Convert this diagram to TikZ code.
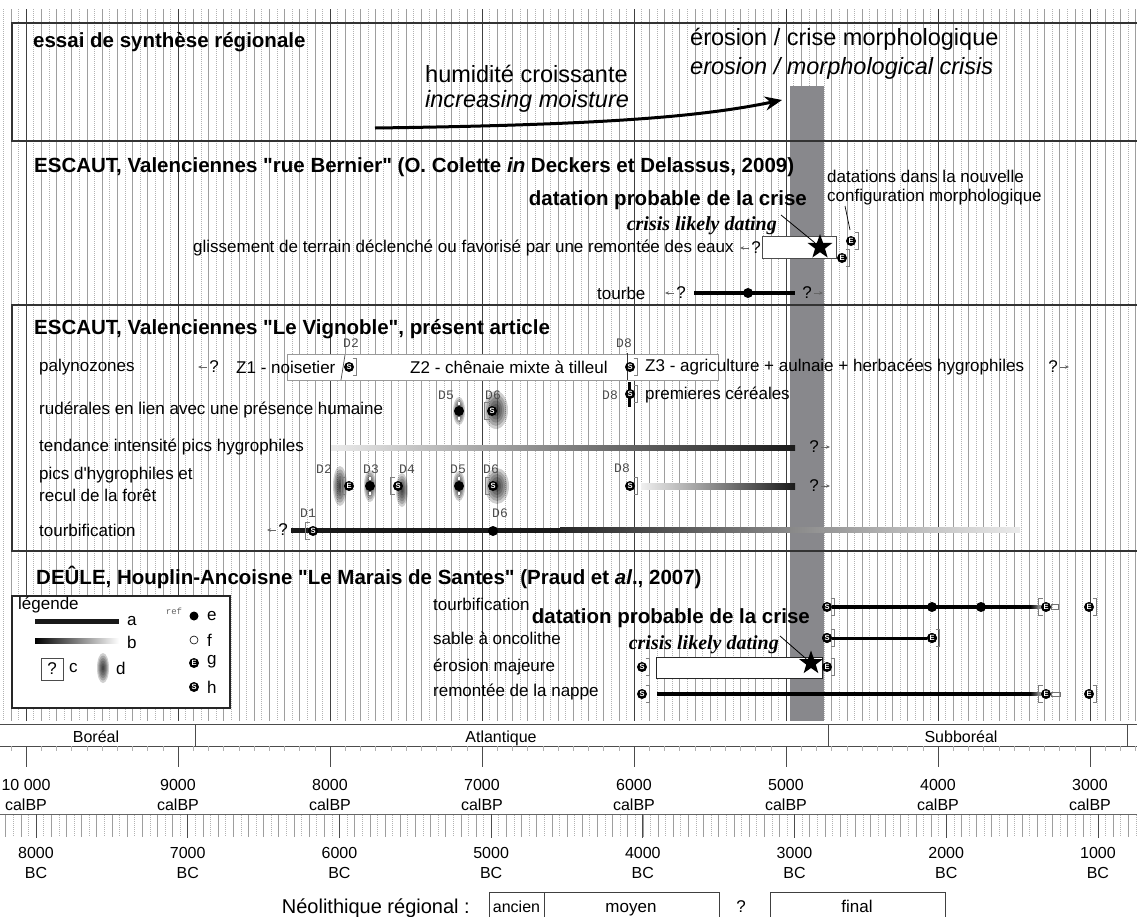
\documentclass[tikz,border=0pt]{standalone}
\usepackage{fontspec}
\setmainfont{Liberation Sans}[Ligatures=TeXOff]
\newfontfamily\tnr{Liberation Serif}
\newfontfamily\mono{Liberation Mono}
\usetikzlibrary{shapes.geometric,arrows.meta}
\newcommand{\fsz}[1]{\fontsize{#1}{#1}\selectfont}
\definecolor{crisis}{RGB}{136,136,140}
\tikzset{
  lbl/.style={anchor=west, inner sep=0pt, font=\fsz{17}},
  head/.style={anchor=west, inner sep=0pt, font=\fsz{20.5}\bfseries},
  big/.style={anchor=west, inner sep=0pt, font=\fsz{23.5}},
  dlab/.style={inner sep=0pt, font=\mono\fsz{13}, text=black!70},
  axl/.style={inner sep=0pt, font=\fsz{16}, anchor=base},
  mk/.style={circle, fill=black, inner sep=0pt, minimum size=10pt, text=white, font=\fsz{7.5}\bfseries},
  dot/.style={circle, fill=black, inner sep=0pt, minimum size=10pt},
  brk/.style={draw=black!50, line width=0.6pt},
  qa/.style={draw=black!60, line width=0.6pt, -{Stealth[length=4pt,width=3.5pt]}},
  qm/.style={inner sep=0pt, font=\fsz{17}},
  star5/.style={star, star points=5, star point ratio=2.5, fill=black, inner sep=0pt, minimum size=26pt},
  wbox/.style={draw=black!70, fill=white, line width=0.6pt},
  secbox/.style={draw=black!80, line width=1.1pt},
  ptr/.style={draw=black, line width=0.8pt},
  gmin/.style={draw=black!38, line width=0.5pt},
  gdot/.style={draw=black!30, line width=0.5pt, dash pattern=on 1pt off 1pt},
  gmaj/.style={draw=black!75, line width=0.9pt},
  nbox/.style={draw=black!75, line width=0.9pt},
  nlab/.style={inner sep=0pt, font=\fsz{17}, anchor=base},
}
\newcommand{\brR}[1]{\draw[brk] ([shift={(3.5,-8.5)}]#1.center) -- ++(4,0) -- ++(0,17) -- ++(-4,0);}
\newcommand{\brL}[1]{\draw[brk] ([shift={(-3.5,-8.5)}]#1.center) -- ++(-4,0) -- ++(0,17) -- ++(4,0);}
\newcommand{\blurell}[4]{\foreach \k in {1,...,6}{\fill[black, fill opacity=0.19] (#1,#2) ellipse [x radius={#3*\k/6}, y radius={#4*\k/6}];}}
\newcommand{\wtick}[2]{\draw[white, line width=1.2pt] (#1,#2-9) -- (#1,#2-6) (#1,#2+6) -- (#1,#2+9);}
\begin{document}
\begin{tikzpicture}[x=1pt,y=-1pt]
\useasboundingbox (0,0) rectangle (1137,916);
\fill[white] (0,0) rectangle (1137,916);

% ---------- grid ----------
\foreach \b in {10150,10100,...,2700}{
  \pgfmathsetmacro\xx{26+(10000-\b)*0.152}
  \pgfmathtruncatemacro\rr{mod(\b,100)}
  \ifnum\rr=0 \draw[gmin] (\xx,9) -- (\xx,721); \else \draw[gdot] (\xx,9) -- (\xx,721); \fi
}
\foreach \b in {10000,9000,...,3000}{
  \pgfmathsetmacro\xx{26+(10000-\b)*0.152}
  \draw[gmaj] (\xx,9) -- (\xx,721);
}
% crisis bar
\fill[crisis] (790,86) rectangle (824,721);

% section boxes
\draw[secbox] (12,23) rectangle (1145,141);
\draw[secbox] (12,305) rectangle (1145,551);

% ---------- box 1 ----------
\node[head] (t1) at (33,42) {essai de synthèse régionale};
\node[big] (t2) at (690,39) {érosion / crise morphologique};
\node[big] (t3) at (690,68) {\itshape erosion / morphological crisis};
\node[big] (t4) at (425,74) {humidité croissante};
\node[big] (t5) at (425,101) {\itshape increasing moisture};
\coordinate (hA) at (375,128);
\coordinate (hB) at (782,100);
\draw[line width=3pt, -{Stealth[length=17pt,width=14pt]}] (hA) .. controls (600,125) and (700,117) .. (hB);

% ---------- section 2 ----------
\node[head] (h2) at (34,167) {ESCAUT, Valenciennes "rue Bernier" (O. Colette \textit{in} Deckers et Delassus, 2009)};
\node[lbl] (c1) at (827,176) {datations dans la nouvelle};
\node[lbl] (c2) at (827,197) {configuration morphologique};
\node[anchor=east, inner sep=0pt, font=\fsz{20.5}\bfseries] (dp1) at (807,200) {datation probable de la crise};
\node[anchor=east, inner sep=0pt, font=\tnr\fsz{20}\bfseries\itshape] (cl1) at (777,226) {crisis likely dating};
\node[lbl] (gl) at (193,248) {glissement de terrain déclenché ou favorisé par une remontée des eaux};
\node[qm] (q1) at (756,248) {?};
\draw[qa] ([xshift=-2pt]q1.west) -- ++(-9,0);
\draw[wbox] (762,236) rectangle (836,258);
\node[star5] (st1) at (820,247) {};
\draw[ptr] (781,215) -- (st1);
\node[mk] (mA) at (851,241) {E}; \brR{mA}
\node[mk] (mB) at (842,258) {E}; \brR{mB}
\draw[ptr, line width=0.7pt] (845,206) -- (850,230);
\node[lbl] (tb) at (597,293) {tourbe};
\node[qm] (q2) at (681,293) {?};
\draw[qa] ([xshift=-2pt]q2.west) -- ++(-9,0);
\coordinate (tbA) at (694,293); \coordinate (tbB) at (795,293);
\draw[line width=4.5pt] (tbA) -- (tbB);
\node[dot] (d1) at (748,293) {};
\node[qm] (q3) at (807,293) {?};
\draw[qa] ([xshift=2pt]q3.east) -- ++(9,0);

% ---------- section 3 ----------
\node[head] (h3) at (34,329) {ESCAUT, Valenciennes "Le Vignoble", présent article};
% palynozones
\node[lbl] (p0) at (39,367) {palynozones};
\node[qm] (q4) at (214,367) {?};
\draw[qa] ([xshift=-2pt]q4.west) -- ++(-9,0);
\draw[draw=black!40, fill=white, line width=0.6pt] (287,354) rectangle (718,380);
\draw[black!70, line width=0.7pt] (345,355) -- (341,380);
\draw[black!80, line width=0.8pt] (627,353) -- (627,380);
\node[lbl] (z1) at (236,367) {Z1 - noisetier};
\node[lbl] (z2) at (410,367) {Z2 - chênaie mixte à tilleul};
\node[lbl] (z3) at (645,367) {Z3 - agriculture + aulnaie + herbacées hygrophiles};
\node[qm] (q5) at (1053,367) {?};
\draw[qa] ([xshift=2pt]q5.east) -- ++(9,0);
\node[dlab] (lD2a) at (351,343) {D2};
\node[dlab] (lD8a) at (624,343) {D8};
\node[mk] (m1) at (349,367) {S}; \brR{m1}
\node[mk] (m2) at (630,367) {S}; \brR{m2}
% rudérales
\node[lbl] (r0) at (39,410) {rudérales en lien avec une présence humaine};
\blurell{459}{411}{6}{14}
\blurell{496}{410}{12}{19}
\node[dlab] (lD5a) at (446,395) {D5};
\node[dlab] (lD6a) at (493,395) {D6};
\node[dot] (d2) at (459,411) {}; \wtick{459}{411}
\node[mk] (m4) at (492,411) {S}; \brL{m4}
\node[dlab] (lD8b) at (610,395) {D8};
\draw[line width=3pt] (629,382) -- (629,407);
\node[mk] (m3) at (630,394) {S}; \brR{m3}
\node[lbl] (pc) at (645,395) {premieres céréales};
% tendance
\node[lbl] (te) at (39,447) {tendance intensité pics hygrophiles};
\shade[left color=black!8, right color=black!90] (331,445.5) rectangle (795,450.5);
\node[qm] (q6) at (814,447) {?};
\draw[qa] ([xshift=2pt]q6.east) -- ++(9,0);
% pics
\node[lbl] (pi1) at (39,475) {pics d'hygrophiles et};
\node[lbl] (pi2) at (39,495) {recul de la forêt};
\blurell{340}{486}{7}{20}
\blurell{370}{486}{6}{16}
\blurell{402}{490}{6}{17}
\blurell{459}{486}{6}{15}
\blurell{497}{486}{12}{18}
\node[dlab] (lD2b) at (324,469) {D2};
\node[dlab] (lD3) at (371,469) {D3};
\node[dlab] (lD4) at (407,469) {D4};
\node[dlab] (lD5b) at (458,469) {D5};
\node[dlab] (lD6b) at (491,469) {D6};
\node[mk] (m5) at (349,486) {E}; \brL{m5}
\node[dot] (d3) at (370,486) {}; \wtick{370}{486}
\node[mk] (m6) at (398,486) {S}; \brL{m6}
\node[dot] (d4) at (459,486) {}; \wtick{459}{486}
\node[mk] (m7) at (493,486) {S}; \brL{m7}
\node[dlab] (lD8c) at (622,468) {D8};
\shade[left color=black!6, right color=black!90] (641,483) rectangle (795,489);
\node[mk] (m8) at (630,486) {S}; \brR{m8}
\node[qm] (q7) at (814,486) {?};
\draw[qa] ([xshift=2pt]q7.east) -- ++(9,0);
% tourbification
\node[lbl] (to) at (39,530) {tourbification};
\node[qm] (q8) at (283,530) {?};
\draw[qa] ([xshift=-2pt]q8.west) -- ++(-9,0);
\coordinate (toA) at (291,530); \coordinate (toB) at (560,530);
\draw[line width=5pt, black!90] (toA) -- (toB);
\shade[left color=black!85, right color=black!8] (560,527.5) rectangle (1020,532.5);
\node[dlab] (lD1) at (308,513) {D1};
\node[dlab] (lD6c) at (500,513) {D6};
\node[mk] (m9) at (313,531) {S}; \brL{m9}
\node[dot] (d5) at (493,531) {};

% ---------- section 4 ----------
\node[head] (h4) at (36,577) {DEÛLE, Houplin-Ancoisne "Le Marais de Santes" (Praud et \textit{al}., 2007)};
% legend
\draw[draw=black!85, line width=1.5pt, fill=white] (12,596) rectangle (230,708);
\node[lbl] (lg) at (18,605) {légende};
\coordinate (la1) at (35,621); \coordinate (la2) at (119,621);
\draw[line width=5pt, black!90] (la1) -- (la2);
\node[lbl] (la) at (127,621) {a};
\shade[left color=black, right color=white] (35,638.5) rectangle (119,643.5);
\node[lbl] (lb) at (127,642) {b};
\node[draw=black!70, line width=0.6pt, minimum width=22pt, minimum height=22pt, inner sep=0pt, font=\fsz{17}] (lcq) at (52,669) {?};
\node[lbl] (lc) at (69,668) {c};
\blurell{103}{668}{6}{15}
\node[lbl] (ld) at (116,668) {d};
\node[inner sep=0pt, font=\mono\fsz{9}, text=black!60] (lref) at (174,611) {ref};
\node[dot, minimum size=9pt] (le) at (194,616) {};
\node[lbl] (lee) at (207,616) {e};
\node[circle, draw=black, line width=0.6pt, inner sep=0pt, minimum size=8pt] (lf) at (194,640) {};
\node[lbl] (lff) at (207,640) {f};
\node[mk] (lgm) at (194,663) {E};
\node[lbl] (lgg) at (207,662) {g};
\node[mk] (lhm) at (194,687) {S};
\node[lbl] (lhh) at (207,687) {h};
% rows
\node[lbl] (u1) at (433,604) {tourbification};
\node[lbl] (u2) at (433,638) {sable à oncolithe};
\node[lbl] (u3) at (433,667) {érosion majeure};
\node[lbl] (u4) at (433,692) {remontée de la nappe};
% row 1
\node[mk] (n1) at (827,607) {S}; \brR{n1}
\draw[line width=4pt] (n1) -- (1030,607);
\shade[left color=black, right color=black!25] (1030,605.5) rectangle (1043,608.5);
\node[mk] (n2) at (1046,607) {E}; \brL{n2}
\draw[black!55, line width=0.6pt] (1051,604.5) rectangle (1058,609.5);
\node[dot] (d6) at (932,607) {};
\node[dot] (d7) at (981,607) {};
\node[mk] (n3) at (1089,607) {E}; \brR{n3}
% row 2
\node[mk] (n4) at (827,638) {S}; \brR{n4}
\node[mk] (n5) at (932,638) {E}; \brR{n5}
\draw[line width=3pt] (n4) -- (n5);
\node[mk] at (827,638) {S};
\node[mk] at (932,638) {E};
% row 3
\node[mk] (n6) at (642,667) {S}; \brR{n6}
\draw[wbox, draw=black!85] (656,657) rectangle (822,678);
\node[star5, minimum size=25pt] (st2) at (811,663) {};
\node[mk] (n7) at (827,667) {E}; \brR{n7}
\node[anchor=east, inner sep=0pt, font=\fsz{20.5}\bfseries] (dp2) at (810,618) {datation probable de la crise};
\node[anchor=east, inner sep=0pt, font=\tnr\fsz{20}\bfseries\itshape] (cl2) at (779,645) {crisis likely dating};
\draw[ptr] (780,636) -- (st2);
% row 4
\node[mk] (n8) at (642,694) {S}; \brR{n8}
\coordinate (r4a) at (657,694); \coordinate (r4b) at (1030,694);
\draw[line width=4pt] (r4a) -- (r4b);
\shade[left color=black, right color=black!25] (1030,692.5) rectangle (1043,695.5);
\node[mk] (n9) at (1046,694) {E}; \brL{n9}
\draw[black!55, line width=0.6pt] (1051,692) rectangle (1060,696.5);
\node[mk] (n10) at (1089,694) {E}; \brR{n10}

% ---------- chronozones ----------
\draw[black!70, line width=0.8pt] (0,724) -- (1137,724) (0,746) -- (1137,746);
\draw[black!70, line width=0.8pt] (195,724) -- (195,746) (828,724) -- (828,746) (1127,724) -- (1127,746);
\node[axl] (cz1) at (96,742) {Boréal};
\node[axl] (cz2) at (501,742) {Atlantique};
\node[axl] (cz3) at (961,742) {Subboréal};

% calBP axis
\foreach \b in {10100,10000,...,2700}{
  \pgfmathsetmacro\xx{26+(10000-\b)*0.152}
  \draw[black!30, line width=0.5pt] (\xx,746) -- (\xx,751);
}
\foreach \b/\t in {10000/10 000,9000/9000,8000/8000,7000/7000,6000/6000,5000/5000,4000/4000,3000/3000}{
  \pgfmathsetmacro\xx{26+(10000-\b)*0.152}
  \draw[black!70, line width=0.8pt] (\xx,746) -- (\xx,767);
  \node[axl] (cb\b) at (\xx,790) {\t};
  \node[axl] (cc\b) at (\xx,810) {calBP};
}
% BC axis
\draw[black!60, line width=0.8pt] (0,814) -- (1137,814);
\foreach \b in {8200,8150,...,700}{
  \pgfmathsetmacro\xx{36+(8000-\b)*0.1517}
  \pgfmathtruncatemacro\rr{mod(\b,100)}
  \ifnum\rr=0 \draw[gmin] (\xx,815) -- (\xx,837); \else \draw[gdot] (\xx,815) -- (\xx,837); \fi
}
\foreach \b in {8000,7000,...,1000}{
  \pgfmathsetmacro\xx{36+(8000-\b)*0.1517}
  \draw[black!70, line width=0.8pt] (\xx,814) -- (\xx,838);
  \node[axl] (bb\b) at (\xx,858) {\b};
  \node[axl] (bc\b) at (\xx,878) {BC};
}
% Neolithique
\node[anchor=base east, inner sep=0pt, font=\fsz{20}] (neo) at (470,913) {Néolithique régional :};
\draw[nbox] (489,892) rectangle (544,925);
\draw[nbox] (544,892) rectangle (719,925);
\draw[nbox] (770,892) rectangle (945,925);
\node[nlab, font=\fsz{16}] (nA) at (516.5,912) {ancien};
\node[nlab] (nM) at (631,912) {moyen};
\node[nlab] (nQ) at (741,912) {?};
\node[nlab] (nF) at (857,912) {final};
\end{tikzpicture}
\end{document}
